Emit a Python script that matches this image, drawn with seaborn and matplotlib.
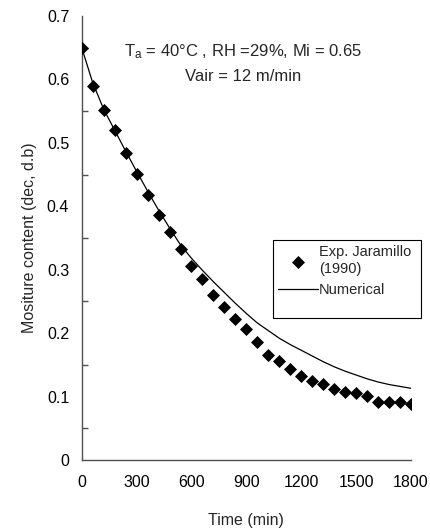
import matplotlib
matplotlib.use("Agg")
import matplotlib.pyplot as plt
from matplotlib.patches import Rectangle
import seaborn as sns
import pandas as pd
import numpy as np

# ---- data ----
exp_time = [0, 60, 120, 180, 240, 300, 360, 420, 480, 540, 600, 660, 720, 780, 840,
            900, 960, 1020, 1080, 1140, 1200, 1260, 1320, 1380, 1440, 1500, 1560,
            1620, 1680, 1740, 1800]
exp_mc = [0.650, 0.589, 0.551, 0.520, 0.484, 0.451, 0.418, 0.386, 0.360, 0.332,
          0.306, 0.286, 0.260, 0.242, 0.223, 0.206, 0.186, 0.165, 0.156, 0.143,
          0.133, 0.125, 0.120, 0.112, 0.107, 0.106, 0.101, 0.092, 0.092, 0.092,
          0.089]
num_time = [0, 60, 120, 180, 240, 300, 360, 420, 480, 540, 600, 660, 720, 780, 840,
            900, 960, 1020, 1080, 1140, 1200, 1260, 1320, 1380, 1440, 1500, 1560,
            1620, 1680, 1740, 1800]
num_mc = [0.650, 0.595, 0.553, 0.520, 0.487, 0.455, 0.424, 0.394, 0.366, 0.339,
          0.318, 0.299, 0.281, 0.264, 0.247, 0.231, 0.216, 0.204, 0.192, 0.182,
          0.173, 0.164, 0.155, 0.147, 0.140, 0.134, 0.128, 0.123, 0.119, 0.116,
          0.113]
x_ticks = [0, 300, 600, 900, 1200, 1500, 1800]
y_ticks = [0, 0.1, 0.2, 0.3, 0.4, 0.5, 0.6, 0.7]
y_tick_labels = ["0", "0.1", "0.2", "0.3", "0.4", "0.5", "0.6", "0.7"]

exp_df = pd.DataFrame({"time": exp_time, "mc": exp_mc})
num_df = pd.DataFrame({"time": num_time, "mc": num_mc})

sns.set_style("white")
plt.rcParams["font.family"] = ["Liberation Sans", "DejaVu Sans"]
plt.rcParams["mathtext.default"] = "regular"

FS = 11.5
AX_COL = "#505050"

fig = plt.figure(figsize=(4.31, 5.31), dpi=100)
ax = fig.add_axes([0.1896, 0.1337, 0.7640, 0.8362])

sns.scatterplot(data=exp_df, x="time", y="mc", ax=ax, marker="D", s=44,
                color="black", edgecolor="black", linewidth=0,
                label="Exp. Jaramillo\n(1990)", zorder=3)
sns.lineplot(data=num_df, x="time", y="mc", ax=ax, color="black",
             linewidth=0.9, label="Numerical", zorder=2)

ax.set_xlim(0, 1800)
ax.set_ylim(0, 0.7)
ax.set_xticks(x_ticks)
ax.set_xticklabels([str(v) for v in x_ticks])
ax.set_yticks(y_ticks)
ax.set_yticklabels(y_tick_labels)
ax.set_yticks(np.arange(0.05, 0.7, 0.1), minor=True)

for side in ["top", "right"]:
    ax.spines[side].set_visible(False)
for side in ["left", "bottom"]:
    ax.spines[side].set_color(AX_COL)
    ax.spines[side].set_linewidth(1.0)

ax.tick_params(axis="both", which="major", direction="inout", length=8,
               width=1.0, color=AX_COL, labelsize=FS, labelcolor="black")
ax.tick_params(axis="y", which="major", pad=5)
ax.tick_params(axis="x", which="major", pad=7)
ax.tick_params(axis="y", which="minor", direction="in", length=4,
               width=1.0, color=AX_COL, left=True)

ax.set_xlabel("Time (min)", fontsize=FS, labelpad=16)
ax.set_ylabel("Mositure content (dec, d.b)", fontsize=FS, labelpad=7)

ax.text(881, 0.6435, "T$_{a}$ = 40°C , RH =29%, Mi = 0.65", ha="center",
        va="center", fontsize=12)
ax.text(881, 0.604, "Vair = 12 m/min", ha="center", va="center", fontsize=12)

# legend frame (Excel-style box with roomy bottom padding)
ax.add_patch(Rectangle((0.581, 0.3198), 1.030 - 0.581, 0.4955 - 0.3198,
                       transform=ax.transAxes, facecolor="white",
                       edgecolor="black", linewidth=0.8, clip_on=False,
                       zorder=4))
leg = ax.legend(loc="upper left", bbox_to_anchor=(0.581, 0.4955),
                borderaxespad=0, frameon=False, fontsize=10.5,
                handlelength=2.75, handletextpad=0.05, borderpad=0.35,
                labelspacing=0.45, markerscale=1.0)
leg.set_zorder(5)
for t in leg.get_texts():
    t.set_linespacing(1.3)

fig.savefig("out.png", dpi=100)
